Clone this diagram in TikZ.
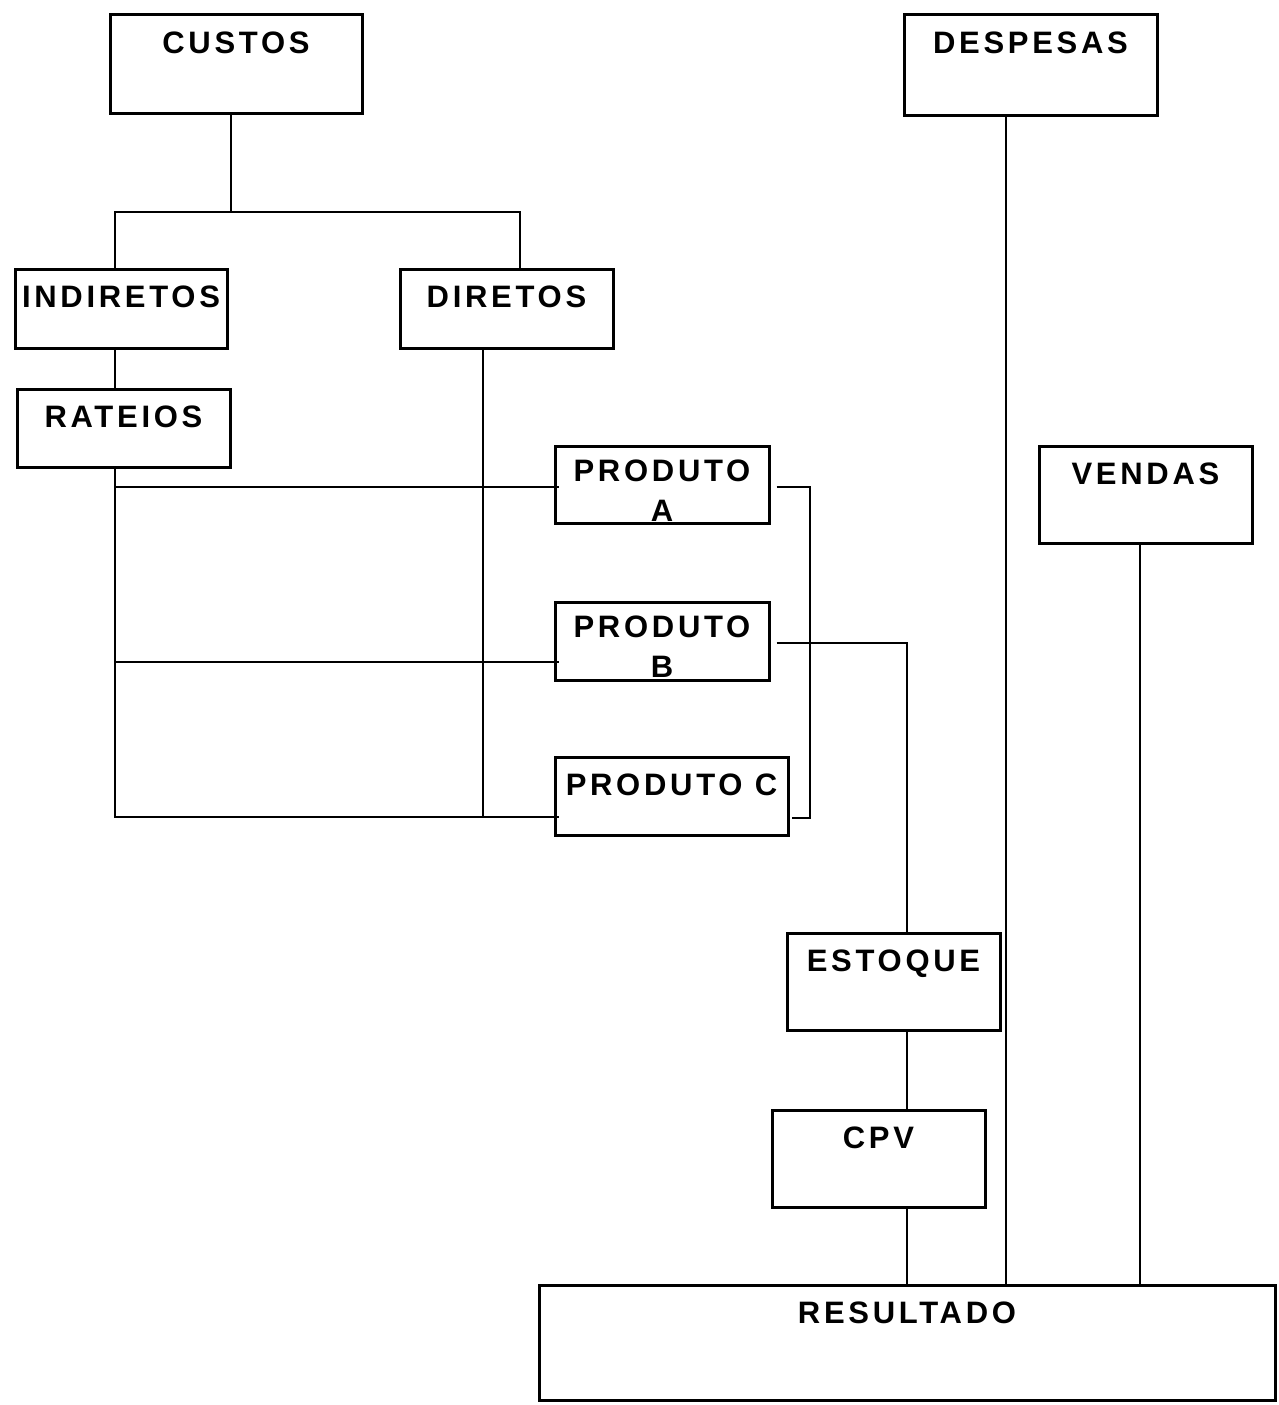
\documentclass[tikz,border=0pt]{standalone}
\usepackage{fontspec}
\newfontfamily\boxfont{Liberation Sans}[LetterSpace=12]
\usetikzlibrary{positioning}

\begin{document}
\begin{tikzpicture}[
    x=1pt, y=-1pt,
    box/.style={draw, line width=3pt, inner sep=0pt},
    lbl/.style={font=\boxfont\bfseries\fontsize{31}{40}\selectfont,
                align=center, anchor=north, inner sep=0pt, yshift=-18pt},
    wire/.style={line width=2.8pt}
  ]
  \useasboundingbox (0,0) rectangle (1279,1405);

  % Top level
  \node[box, minimum width=252pt, minimum height=98pt,
        label={[lbl]north:CUSTOS}] (custos) at (236,64) {};
  \node[box, minimum width=253pt, minimum height=100pt,
        label={[lbl]north:DESPESAS}] (despesas) at (1030.5,65) {};

  % Cost split
  \node[box, minimum width=212pt, minimum height=79pt,
        label={[lbl]north:INDIRETOS}] (indiretos) at (121,308.5) {};
  \node[box, minimum width=213pt, minimum height=79pt,
        label={[lbl]north:DIRETOS}] (diretos) at (506.5,308.5) {};
  \node[box, minimum width=213pt, minimum height=78pt,
        label={[lbl]north:RATEIOS}] (rateios) at (123.5,428) {};

  % Products
  \node[box, minimum width=214pt, minimum height=77pt,
        label={[lbl, yshift=3pt]north:{PRODUTO\\A}}] (prodA) at (662,484.5) {};
  \node[box, minimum width=214pt, minimum height=78pt,
        label={[lbl, yshift=3pt]north:{PRODUTO\\B}}] (prodB) at (662,641) {};
  \node[box, minimum width=233pt, minimum height=78pt,
        label={[lbl]north:PRODUTO C}] (prodC) at (671.5,796) {};

  % Right side
  \node[box, minimum width=213pt, minimum height=97pt,
        label={[lbl]north:VENDAS}] (vendas) at (1145.5,494.5) {};
  \node[box, minimum width=213pt, minimum height=97pt,
        label={[lbl]north:ESTOQUE}] (estoque) at (893.5,981.5) {};
  \node[box, minimum width=213pt, minimum height=97pt,
        label={[lbl]north:CPV}] (cpv) at (878.5,1158.5) {};
  \node[box, minimum width=736pt, minimum height=115pt,
        label={[lbl]north:RESULTADO}] (resultado) at (907,1342.5) {};

  % Junction points
  \coordinate (split) at (231,212);
  \coordinate (lbus) at (115,817);
  \coordinate (rbus) at (810,818);

  % Custos tree
  \draw[wire] ([xshift=-5pt]custos.south) -- (split);
  \draw[wire] ([xshift=-6pt]indiretos.north) |- (split)
    -| ([xshift=13.5pt]diretos.north);
  \draw[wire] ([xshift=-6pt]indiretos.south)
    -- ([xshift=-6pt]indiretos.south |- rateios.north);

  % Rateios and diretos to products
  \draw[wire] ([xshift=-8.5pt]rateios.south) |- (lbus)
    -- ([xshift=5pt]prodC.west |- lbus);
  \draw[wire] ([xshift=-23.5pt]diretos.south)
    -- ([xshift=-23.5pt]diretos.south |- lbus);
  \draw[wire] (lbus |- prodA.west) ++(0,2.5) coordinate (la)
    -- ([xshift=5pt]prodA.west |- la);
  \draw[wire] (lbus |- prodB.west) ++(0,21) coordinate (lb)
    -- ([xshift=5pt]prodB.west |- lb);

  % Products to stock
  \draw[wire] ([xshift=6pt,yshift=-2.5pt]prodA.east) -| (rbus)
    -- ([xshift=2pt]prodC.east |- rbus);
  \draw[wire] ([xshift=6pt,yshift=-2pt]prodB.east)
    -| ([xshift=13.5pt]estoque.north);
  \draw[wire] ([xshift=13.5pt]estoque.south)
    -- ([xshift=13.5pt]estoque.south |- cpv.north);

  % Into resultado
  \draw[wire] ([xshift=28.5pt]cpv.south)
    -- ([xshift=28.5pt]cpv.south |- resultado.north);
  \draw[wire] ([xshift=-24.5pt]despesas.south)
    -- ([xshift=-24.5pt]despesas.south |- resultado.north);
  \draw[wire] ([xshift=-5.5pt]vendas.south)
    -- ([xshift=-5.5pt]vendas.south |- resultado.north);
\end{tikzpicture}
\end{document}
